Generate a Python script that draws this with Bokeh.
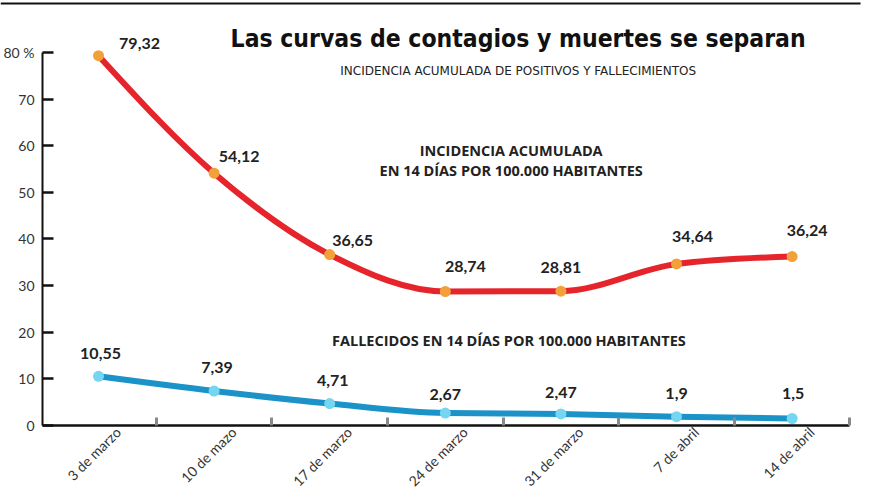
import math
from bokeh.plotting import figure
from bokeh.models import FixedTicker, Range1d
from bokeh.core.properties import value
from bokeh.embed import file_html
from bokeh.resources import INLINE

# ---- data ----
fechas = ["3 de marzo", "10 de mazo", "17 de marzo", "24 de marzo",
          "31 de marzo", "7 de abril", "14 de abril"]
incidencia = [79.32, 54.12, 36.65, 28.74, 28.81, 34.64, 36.24]
fallecidos = [10.55, 7.39, 4.71, 2.67, 2.47, 1.9, 1.5]
y_ticks = [0, 10, 20, 30, 40, 50, 60, 70, 80]
y_tick_labels = {80: "80 %"}

titulo = "Las curvas de contagios y muertes se separan"
subtitulo = "INCIDENCIA ACUMULADA DE POSITIVOS Y FALLECIMIENTOS"
nota_inc = ["INCIDENCIA ACUMULADA", "EN 14 DÍAS POR 100.000 HABITANTES"]
nota_fal = "FALLECIDOS EN 14 DÍAS POR 100.000 HABITANTES"

def fmt(v):
    return ("%g" % v).replace(".", ",")

xs = list(range(len(fechas)))

RED = "#e5252b"
ORANGE = "#f2a13a"
BLUE = "#1b93c9"
CYAN = "#74d6f0"

X0, X1 = -0.8478, 6.730
Y0, Y1 = -14.37, 91.15

p = figure(width=876, height=492, output_backend="svg", toolbar_location=None,
           x_range=Range1d(X0, X1), y_range=Range1d(Y0, Y1),
           min_border_left=0, min_border_right=0, min_border_top=0,
           min_border_bottom=0)
p.outline_line_color = None
p.xgrid.visible = False
p.ygrid.visible = False
p.background_fill_color = "white"
p.border_fill_color = "white"

# y axis
ya = p.yaxis[0]
ya.fixed_location = -0.4844
ya.bounds = (0, 80)
ya.ticker = FixedTicker(ticks=y_ticks, minor_ticks=[])
ya.major_label_overrides = y_tick_labels
ya.major_tick_in = 11
ya.major_tick_out = 0
ya.major_tick_line_width = 2.5
ya.major_tick_line_color = "#111111"
ya.axis_line_width = 2
ya.axis_line_color = "#111111"
ya.major_label_text_font = "Lato"
ya.major_label_text_font_size = "14px"
ya.major_label_text_color = "#333333"
ya.major_label_standoff = 8

# x axis
LAB_SHIFT = 0.17
xa = p.xaxis[0]
xa.fixed_location = 0
xa.bounds = (-0.4844, 6.5)
xa.ticker = FixedTicker(ticks=[i + LAB_SHIFT for i in xs],
                        minor_ticks=[i + 0.5 for i in xs])
xa.major_label_overrides = {i + LAB_SHIFT: f for i, f in zip(xs, fechas)}
xa.major_label_orientation = math.pi / 4
xa.major_tick_in = 0
xa.major_tick_out = 0
xa.minor_tick_in = 8
xa.minor_tick_out = 0
xa.minor_tick_line_color = "#8a8a8a"
xa.minor_tick_line_width = 3
xa.axis_line_width = 2.5
xa.axis_line_color = "#111111"
xa.major_label_text_font = "Lato"
xa.major_label_text_font_size = "14px"
xa.major_label_text_color = "#333333"
xa.major_label_standoff = 4

# smooth curves (monotone cubic -> bezier)
def bez(ys):
    n = len(ys)
    d = [ys[k + 1] - ys[k] for k in range(n - 1)]
    m = [0.0] * n
    for k in range(1, n - 1):
        s0, s1 = d[k - 1], d[k]
        sg = (1 if s0 > 0 else -1 if s0 < 0 else 0) + (1 if s1 > 0 else -1 if s1 < 0 else 0)
        m[k] = sg * min(abs(s0), abs(s1), 0.5 * abs((s0 + s1) / 2))
    m[0] = (3 * d[0] - m[1]) / 2
    m[-1] = (3 * d[-1] - m[-2]) / 2
    out = dict(x0=[], y0=[], x1=[], y1=[], cx0=[], cy0=[], cx1=[], cy1=[])
    for k in range(n - 1):
        out["x0"].append(xs[k]); out["y0"].append(ys[k])
        out["x1"].append(xs[k + 1]); out["y1"].append(ys[k + 1])
        out["cx0"].append(xs[k] + 1 / 3); out["cy0"].append(ys[k] + m[k] / 3)
        out["cx1"].append(xs[k + 1] - 1 / 3); out["cy1"].append(ys[k + 1] - m[k + 1] / 3)
    return out

for ys, lc, mc in [(incidencia, RED, ORANGE), (fallecidos, BLUE, CYAN)]:
    b = bez(ys)
    p.bezier(x0=b["x0"], y0=b["y0"], x1=b["x1"], y1=b["y1"],
             cx0=b["cx0"], cy0=b["cy0"], cx1=b["cx1"], cy1=b["cy1"],
             line_color=lc, line_width=6)
    p.scatter(xs, ys, size=11, fill_color=mc, line_color=None)

# value labels
red_dx = [41, 25, 23, 20, 0, 16, 15]
red_dy = [-12, -17, -14, -25, -24, -27, -26]
blue_dx = [2, 3, 3, 0, 0, 0, 1]
blue_dy = [-23, -24, -23, -19, -21, -23, -25]
lab_style = dict(text_font=value("Lato"), text_font_style="bold",
                 text_font_size="16px", text_color="#222222",
                 text_align="center", text_baseline="middle")
p.text(xs, incidencia, text=[fmt(v) for v in incidencia],
       x_offset=red_dx, y_offset=red_dy, **lab_style)
p.text(xs, fallecidos, text=[fmt(v) for v in fallecidos],
       x_offset=blue_dx, y_offset=blue_dy, **lab_style)

# title & notes
p.text([3.63], [83.0], text=[titulo], text_font=value("DejaVu Sans Condensed"),
       text_font_style="bold", text_font_size="24.5px", text_color="#111111",
       text_align="center", text_baseline="middle")
p.text([3.63], [76.1], text=[subtitulo], text_font=value("DejaVu Sans"),
       text_font_size="12px", text_color="#222222",
       text_align="center", text_baseline="middle")
note_style = dict(text_font=value("Open Sans"), text_font_style="bold",
                  text_font_size="14.5px", text_color="#222222",
                  text_align="center", text_baseline="middle")
p.text([3.57], [59.0], text=[nota_inc[0]], **note_style)
p.text([3.57], [54.6], text=[nota_inc[1]], **note_style)
p.text([3.55], [18.2], text=[nota_fal], **note_style)

# top rule
p.segment(x0=[X0], y0=[90.5], x1=[6.592], y1=[90.5],
          line_color="#111111", line_width=2)

open("out.html", "w").write(file_html(p, INLINE))
